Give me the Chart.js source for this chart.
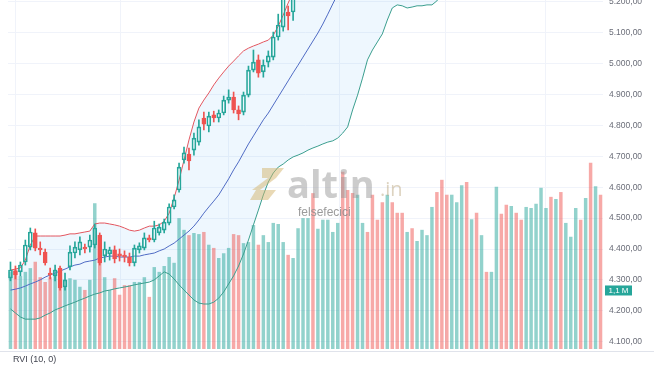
<!DOCTYPE html>
<html><head><meta charset="utf-8">
<script src="https://cdn.jsdelivr.net/npm/chart.js@4/dist/chart.umd.min.js"></script>
<style>html,body{margin:0;padding:0;background:#fff;overflow:hidden}</style>
</head><body>
<canvas id="c" width="654" height="366"></canvas>
<script>
// ---- data ----
const priceTicks = [4100,4200,4300,4400,4500,4600,4700,4800,4900,5000,5100,5200];
const gridPositions = [11.6, 32.8, 55, 77.6, 97.8];
const candleOpen  = [4306,4329,4326,4358,4406,4452,4403,4390,4322,4313,4338,4277,4342,4387,4397,4406,4406,4413,4445,4378,4384,4397,4384,4380,4374,4355,4397,4403,4436,4429,4452,4461,4484,4536,4591,4688,4707,4720,4746,4824,4798,4834,4824,4840,4882,4892,4850,4843,4898,4979,5012,4973,5005,5021,5086,5118,5167,5167];
const candleHigh  = [4358,4345,4358,4429,4468,4465,4423,4400,4338,4348,4345,4322,4410,4423,4439,4416,4445,4481,4452,4423,4406,4410,4400,4394,4387,4413,4420,4452,4445,4490,4481,4497,4546,4575,4678,4730,4727,4775,4818,4843,4843,4846,4850,4895,4915,4908,4863,4908,4992,5044,5028,5012,5041,5102,5160,5240,5186,5240];
const candleLow   = [4297,4303,4313,4348,4397,4394,4381,4348,4303,4297,4267,4267,4332,4371,4381,4387,4390,4403,4348,4358,4364,4355,4361,4358,4345,4345,4387,4397,4423,4423,4445,4452,4478,4530,4584,4678,4656,4704,4736,4785,4779,4811,4811,4834,4872,4840,4818,4834,4892,4973,4956,4956,4989,5012,5076,5105,5109,5140];
const candleClose = [4332,4316,4348,4413,4455,4403,4397,4355,4316,4332,4274,4300,4390,4406,4423,4400,4429,4468,4355,4400,4397,4368,4377,4374,4355,4403,4410,4436,4429,4468,4471,4487,4536,4559,4665,4711,4685,4759,4795,4804,4830,4824,4840,4882,4892,4850,4837,4898,4979,5005,4969,4995,5025,5086,5125,5220,5154,5225];
const bandUpper = [4332,4335,4339,4364,4413,4442,4442,4442,4442,4442,4442,4445,4449,4449,4452,4455,4458,4481,4484,4484,4481,4478,4474,4468,4461,4458,4461,4468,4474,4474,4478,4490,4516,4565,4623,4688,4753,4811,4856,4882,4905,4931,4953,4973,4992,5008,5025,5041,5050,5057,5063,5070,5076,5092,5121,5157,5196,5232,5270,5300,5330,5360,5385,5405,5420,5435,5450,5465,5480,5490,5500,5505,5510,5515,5520,5525,5530,5535,5540,5545,5548,5551,5554,5557,5560,5562,5564,5566,5568];
const bandMiddle = [4267,4270,4274,4280,4287,4293,4300,4309,4316,4322,4329,4335,4342,4348,4351,4358,4361,4364,4371,4374,4377,4377,4374,4374,4374,4377,4377,4381,4384,4387,4394,4400,4410,4419,4432,4445,4458,4474,4494,4516,4536,4555,4575,4601,4627,4656,4682,4711,4740,4766,4792,4818,4840,4866,4892,4918,4944,4970,4995,5021,5047,5073,5099,5128,5160,5193,5225];
const bandLower = [4206,4193,4180,4173,4173,4173,4177,4186,4193,4203,4209,4216,4222,4228,4235,4241,4248,4254,4258,4264,4267,4271,4274,4277,4280,4284,4287,4290,4293,4300,4313,4326,4319,4303,4284,4267,4251,4235,4225,4222,4222,4228,4241,4261,4287,4313,4345,4384,4429,4478,4526,4575,4617,4646,4665,4675,4688,4698,4704,4711,4720,4727,4733,4740,4746,4750,4759,4775,4795,4850,4898,4953,5012,5044,5070,5096,5141,5180,5190,5187,5180,5183,5187,5187,5190,5190,5203,5222,5240];
// volume in millions
const volume = [1.45,1.49,1.37,1.45,1.52,1.64,1.35,1.26,1.35,1.49, 1.49,1.30,1.33,1.30,1.17,1.11,1.30,2.74,2.14,1.35, 1.11,1.33,1.02,1.20,1.20,1.26,1.26,1.35,0.98,1.54, 1.45,1.56,1.73,1.62,2.46,2.24,2.14,2.18,2.16,2.20, 1.96,1.90,1.71,1.80,1.90,2.16,2.14,1.99,2.01,2.33, 1.96,2.14,2.01,2.37,2.35,2.01,1.77,1.71,2.27,2.46, 2.46,2.93,2.26,2.43,2.43,2.20,2.37,3.33,2.99,2.93, 2.90,2.37,2.20,2.90,2.43,2.76,2.90,2.76,2.56,2.56, 2.20,2.27,2.03,2.24,2.14,2.67,2.95,3.18,2.90,2.90, 2.76,3.08,3.14,2.44,2.56,2.14,1.45,1.45,3.05,2.54, 2.71,2.69,2.56,2.43,2.67,2.65,2.73,3.03,2.65,2.86, 2.82,2.95,2.37,2.11,2.65,2.43,2.84,3.50,3.06,2.90];
// u = up bar (teal), d = down bar (red)
const volumeDir = [
 'u','d','u','u','u','d','d','d','d','u',
 'd','u','u','u','u','d','u','u','d','u',
 'u','d','d','d','d','u','u','u','d','u',
 'u','u','u','u','u','u','d','u','u','d',
 'u','d','u','u','u','d','d','u','u','u',
 'd','u','u','u','u','u','d','u','u','u',
 'u','d','u','u','u','u','u','d','d','d',
 'u','u','d','d','d','d','u','d','d','d',
 'u','d','u','u','u','u','d','d','d','u',
 'u','u','d','u','d','u','d','u','u','d',
 'd','u','d','d','u','u','u','u','u','d',
 'u','d','u','u','u','d','u','d','u','d'];
const lastVolumeLabel = 1.1;

// ---- colours ----
const UP = '#26a69a', DOWN = '#ef5350';
const VOL_UP = 'rgba(38,166,154,0.5)', VOL_DOWN = 'rgba(239,83,80,0.5)';

const fmt = v => { const s = v.toFixed(2).split('.'); return s[0].replace(/\B(?=(\d{3})+(?!\d))/g,'.') + ',' + s[1]; };

const idx = a => a.map((v,i)=>({x:i, y:v}));
const up = candleOpen.map((o,i)=>candleClose[i] >= o);
const candleColor = up.map(u => u ? UP : DOWN);

const wickTop = candleOpen.map((o,i)=>({x:i, y:[Math.max(o,candleClose[i]), candleHigh[i]]}));
const wickBot = candleOpen.map((o,i)=>({x:i, y:[candleLow[i], Math.min(o,candleClose[i])]}));
const bodies = candleOpen.map((o,i)=>({x:i, y:[o, candleClose[i]]}));

const overlay = {
  id:'overlay',
  afterDatasetsDraw(chart){
    const {ctx, chartArea:a, scales} = chart;
    ctx.save();
    // watermark logo
    ctx.globalAlpha = 0.5;
    ctx.fillStyle = '#d4b46c';
    ctx.beginPath();
    ctx.moveTo(262,168); ctx.lineTo(284,168); ctx.lineTo(276,178); ctx.lineTo(262,178); ctx.closePath(); ctx.fill();
    ctx.beginPath();
    ctx.moveTo(252,190); ctx.lineTo(268,178); ctx.lineTo(276,178); ctx.lineTo(260,190); ctx.closePath(); ctx.fill();
    ctx.beginPath();
    ctx.moveTo(256,190); ctx.lineTo(276,190); ctx.lineTo(268,200); ctx.lineTo(250,200); ctx.closePath(); ctx.fill();
    ctx.globalAlpha = 0.5;
    ctx.fillStyle = '#9a9a9a';
    ctx.font = 'bold 38px "Open Sans", sans-serif';
    ctx.textBaseline = 'alphabetic';
    ctx.fillText('altin', 287, 198);
    ctx.font = '20px "Open Sans", sans-serif';
    ctx.fillStyle = '#bba882';
    ctx.fillText('.in', 380, 196);
    ctx.globalAlpha = 0.85;
    ctx.fillStyle = '#8a8a8a';
    ctx.font = '12px "Liberation Sans", Arial, sans-serif';
    ctx.fillText('felsefecici', 298, 216);
    ctx.restore();

    ctx.save();
    // pane separator
    ctx.strokeStyle = '#e0e3eb';
    ctx.lineWidth = 1;
    ctx.beginPath(); ctx.moveTo(0, a.bottom+2.5); ctx.lineTo(654, a.bottom+2.5); ctx.stroke();
    // RVI pane label
    ctx.fillStyle = '#434651';
    ctx.font = '9px "Liberation Sans", Arial, sans-serif';
    ctx.textBaseline = 'middle';
    ctx.fillText('RVI (10, 0)', 13, a.bottom + 11);
    // last volume label
    const yv = scales.yv.getPixelForValue(lastVolumeLabel);
    ctx.fillStyle = '#26a69a';
    ctx.fillRect(a.right+2, yv-5, 27, 10);
    ctx.fillStyle = '#ffffff';
    ctx.font = '8px "Liberation Sans", Arial, sans-serif';
    ctx.textAlign = 'center';
    ctx.fillText('1,1 M', a.right+15.5, yv+0.5);
    ctx.restore();
  }
};

new Chart(document.getElementById('c'), {
  type:'bar',
  data:{
    datasets:[
      {type:'line', label:'upper', data: idx(bandUpper), yAxisID:'y', borderColor:'#e3565f', borderWidth:1, pointRadius:0, fill:false, order:3},
      {type:'line', label:'lower', data: idx(bandLower), yAxisID:'y', borderColor:'#3a9e8e', borderWidth:1, pointRadius:0,
        fill:{target:0, above:'rgba(33,150,243,0.08)', below:'rgba(33,150,243,0.08)'}, order:3},
      {type:'line', label:'basis', data: idx(bandMiddle), yAxisID:'y', borderColor:'#4f6bc4', borderWidth:1, pointRadius:0, fill:false, order:3},
      {type:'bar', label:'volume', data: idx(volume), yAxisID:'yv', grouped:false,
        backgroundColor: volumeDir.map(d => d==='u' ? VOL_UP : VOL_DOWN), barPercentage:0.7, categoryPercentage:1, order:5},
      {type:'bar', label:'wickTop', data: wickTop, yAxisID:'y', grouped:false, backgroundColor:candleColor, barThickness:1, order:2},
      {type:'bar', label:'wickBot', data: wickBot, yAxisID:'y', grouped:false, backgroundColor:candleColor, barThickness:1, order:2},
      {type:'bar', label:'body', data: bodies, yAxisID:'y', grouped:false,
        backgroundColor: up.map(u => u ? 'rgba(255,255,255,0)' : DOWN), borderColor:candleColor, borderWidth:1, borderSkipped:false, barThickness:4, order:1}
    ]
  },
  options:{
    responsive:false, animation:false, devicePixelRatio:1,
    layout:{padding:{left:8, right:0, top:0, bottom:17}},
    plugins:{legend:{display:false}, tooltip:{enabled:false}, filler:{drawTime:'beforeDatasetsDraw'}},
    scales:{
      x:{type:'linear', min:-0.5, max:119.5, offset:false,
        afterBuildTicks: s => { s.ticks = gridPositions.map(v=>({value:v})); },
        ticks:{display:false}, border:{display:false},
        grid:{color:'#f0f3fa', drawTicks:false}},
      y:{type:'linear', position:'right', min:4076.4, max:5205.8,
        afterBuildTicks: s => { s.ticks = priceTicks.map(v=>({value:v})); },
        afterFit: s => { s.width = 51; s.paddingTop = 0; s.paddingBottom = 0; },
        border:{display:false},
        grid:{color:'#f0f3fa', drawTicks:false},
        ticks:{padding:6, color:'#6a6d78', font:{size:8.5, family:'"Liberation Sans", Arial, sans-serif'}, callback: v => fmt(v)}},
      yv:{type:'linear', display:false, min:0, max:6.56}
    }
  },
  plugins:[overlay]
});
</script>
</body></html>
